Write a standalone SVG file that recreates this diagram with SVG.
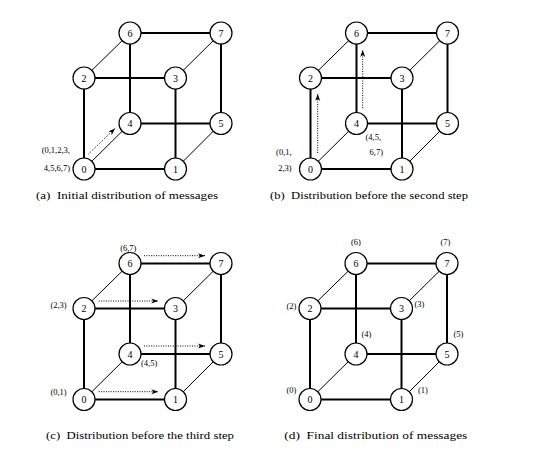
<svg xmlns="http://www.w3.org/2000/svg" width="546" height="463" viewBox="0 0 546 463">
<style>
  text { font-family: "Liberation Serif", "Times New Roman", serif; fill: #000; }
  .thick { stroke: #000; stroke-width: 2; fill: none; }
  .thin { stroke: #000; stroke-width: 1; fill: none; }
  .dot { stroke: #000; stroke-width: 1; stroke-dasharray: 1 1.4; fill: none; marker-end: url(#ah); }
  .node circle { fill: #fff; stroke: #000; stroke-width: 1.2; }
  .node text { font-size: 10px; text-anchor: middle; }
  .lbl { font-size: 8.5px; }
  .cap { font-size: 11px; }
</style>
<defs>
  <marker id="ah" markerUnits="userSpaceOnUse" markerWidth="8" markerHeight="6" refX="7" refY="2.5" orient="auto" overflow="visible">
    <path d="M0,0 L7,2.5 L0,5 L2,2.5 Z" fill="#000"/>
  </marker>
  <g id="edges">
    <line class="thick" x1="84" y1="169" x2="175.5" y2="169"/>
    <line class="thick" x1="84" y1="78" x2="175.5" y2="78"/>
    <line class="thick" x1="84" y1="169" x2="84" y2="78"/>
    <line class="thick" x1="175.5" y1="169" x2="175.5" y2="78"/>
    <line class="thick" x1="130" y1="123.5" x2="221" y2="123.5"/>
    <line class="thick" x1="130" y1="33" x2="221" y2="33"/>
    <line class="thick" x1="130" y1="123.5" x2="130" y2="33"/>
    <line class="thick" x1="221" y1="123.5" x2="221" y2="33"/>
    <line class="thin" x1="84" y1="169" x2="130" y2="123.5"/>
    <line class="thin" x1="175.5" y1="169" x2="221" y2="123.5"/>
    <line class="thin" x1="84" y1="78" x2="130" y2="33"/>
    <line class="thin" x1="175.5" y1="78" x2="221" y2="33"/>
  </g>
</defs>

<!-- Panel (a) -->
<g id="panel-a">
  <g id="connectors-a">
    <use href="#edges"/>
    <line class="dot" x1="88.5" y1="154" x2="115" y2="128.5"/>
  </g>
  <g id="a0" class="node"><circle cx="84" cy="169" r="11"/><text x="84" y="172.5">0</text></g>
  <g id="a1" class="node"><circle cx="175.5" cy="169" r="11"/><text x="175.5" y="172.5">1</text></g>
  <g id="a2" class="node"><circle cx="84" cy="78" r="11"/><text x="84" y="81.5">2</text></g>
  <g id="a3" class="node"><circle cx="175.5" cy="78" r="11"/><text x="175.5" y="81.5">3</text></g>
  <g id="a4" class="node"><circle cx="130" cy="123.5" r="11"/><text x="130" y="127">4</text></g>
  <g id="a5" class="node"><circle cx="221" cy="123.5" r="11"/><text x="221" y="127">5</text></g>
  <g id="a6" class="node"><circle cx="130" cy="33" r="11"/><text x="130" y="36.5">6</text></g>
  <g id="a7" class="node"><circle cx="221" cy="33" r="11"/><text x="221" y="36.5">7</text></g>
  <text class="lbl" x="70" y="153" text-anchor="end">(0,1,2,3,</text>
  <text class="lbl" x="70" y="171.3" text-anchor="end">4,5,6,7)</text>
  <text class="cap" x="36" y="198.5" xml:space="preserve" textLength="182" lengthAdjust="spacingAndGlyphs">(a)  Initial distribution of messages</text>
</g>

<!-- Panel (b) -->
<g id="panel-b" transform="translate(226.5,0)">
  <g id="connectors-b">
    <use href="#edges"/>
    <line class="dot" x1="91.2" y1="153" x2="91.2" y2="94"/>
    <line class="dot" x1="136.2" y1="108" x2="136.2" y2="50"/>
  </g>
  <g id="b0" class="node"><circle cx="84" cy="169" r="11"/><text x="84" y="172.5">0</text></g>
  <g id="b1" class="node"><circle cx="175.5" cy="169" r="11"/><text x="175.5" y="172.5">1</text></g>
  <g id="b2" class="node"><circle cx="84" cy="78" r="11"/><text x="84" y="81.5">2</text></g>
  <g id="b3" class="node"><circle cx="175.5" cy="78" r="11"/><text x="175.5" y="81.5">3</text></g>
  <g id="b4" class="node"><circle cx="130" cy="123.5" r="11"/><text x="130" y="127">4</text></g>
  <g id="b5" class="node"><circle cx="221" cy="123.5" r="11"/><text x="221" y="127">5</text></g>
  <g id="b6" class="node"><circle cx="130" cy="33" r="11"/><text x="130" y="36.5">6</text></g>
  <g id="b7" class="node"><circle cx="221" cy="33" r="11"/><text x="221" y="36.5">7</text></g>
  <text class="lbl" x="65.2" y="154.7" text-anchor="end">(0,1,</text>
  <text class="lbl" x="65.2" y="170.7" text-anchor="end">2,3)</text>
  <text class="lbl" x="139" y="139.7">(4,5,</text>
  <text class="lbl" x="143" y="154.7">6,7)</text>
  <text class="cap" x="43.5" y="198.5" xml:space="preserve" textLength="198" lengthAdjust="spacingAndGlyphs">(b)  Distribution before the second step</text>
</g>

<!-- Panel (c) -->
<g id="panel-c" transform="translate(0,230.5)">
  <g id="connectors-c">
    <use href="#edges"/>
    <line class="dot" x1="144" y1="25.2" x2="205" y2="25.2"/>
    <line class="dot" x1="98.7" y1="70.5" x2="158.3" y2="70.5"/>
    <line class="dot" x1="144" y1="115.5" x2="205" y2="115.5"/>
    <line class="dot" x1="98.7" y1="161.2" x2="158.3" y2="161.2"/>
  </g>
  <g id="c0" class="node"><circle cx="84" cy="169" r="11"/><text x="84" y="172.5">0</text></g>
  <g id="c1" class="node"><circle cx="175.5" cy="169" r="11"/><text x="175.5" y="172.5">1</text></g>
  <g id="c2" class="node"><circle cx="84" cy="78" r="11"/><text x="84" y="81.5">2</text></g>
  <g id="c3" class="node"><circle cx="175.5" cy="78" r="11"/><text x="175.5" y="81.5">3</text></g>
  <g id="c4" class="node"><circle cx="130" cy="123.5" r="11"/><text x="130" y="127">4</text></g>
  <g id="c5" class="node"><circle cx="221" cy="123.5" r="11"/><text x="221" y="127">5</text></g>
  <g id="c6" class="node"><circle cx="130" cy="33" r="11"/><text x="130" y="36.5">6</text></g>
  <g id="c7" class="node"><circle cx="221" cy="33" r="11"/><text x="221" y="36.5">7</text></g>
  <text class="lbl" x="128.3" y="20.3" text-anchor="middle">(6,7)</text>
  <text class="lbl" x="66.7" y="77.5" text-anchor="end">(2,3)</text>
  <text class="lbl" x="141" y="135">(4,5)</text>
  <text class="lbl" x="66.7" y="164.2" text-anchor="end">(0,1)</text>
  <text class="cap" x="46" y="208" xml:space="preserve" textLength="188" lengthAdjust="spacingAndGlyphs">(c)  Distribution before the third step</text>
</g>

<!-- Panel (d) -->
<g id="panel-d" transform="translate(226,230.5)">
  <g id="connectors-d">
    <use href="#edges"/>
  </g>
  <g id="d0" class="node"><circle cx="84" cy="169" r="11"/><text x="84" y="172.5">0</text></g>
  <g id="d1" class="node"><circle cx="175.5" cy="169" r="11"/><text x="175.5" y="172.5">1</text></g>
  <g id="d2" class="node"><circle cx="84" cy="78" r="11"/><text x="84" y="81.5">2</text></g>
  <g id="d3" class="node"><circle cx="175.5" cy="78" r="11"/><text x="175.5" y="81.5">3</text></g>
  <g id="d4" class="node"><circle cx="130" cy="123.5" r="11"/><text x="130" y="127">4</text></g>
  <g id="d5" class="node"><circle cx="221" cy="123.5" r="11"/><text x="221" y="127">5</text></g>
  <g id="d6" class="node"><circle cx="130" cy="33" r="11"/><text x="130" y="36.5">6</text></g>
  <g id="d7" class="node"><circle cx="221" cy="33" r="11"/><text x="221" y="36.5">7</text></g>
  <text class="lbl" x="130" y="14.8" text-anchor="middle">(6)</text>
  <text class="lbl" x="219.5" y="14.8" text-anchor="middle">(7)</text>
  <text class="lbl" x="65.5" y="78.2" text-anchor="middle">(2)</text>
  <text class="lbl" x="193.5" y="76.8" text-anchor="middle">(3)</text>
  <text class="lbl" x="140.5" y="106.5" text-anchor="middle">(4)</text>
  <text class="lbl" x="232.5" y="106.5" text-anchor="middle">(5)</text>
  <text class="lbl" x="65.5" y="162.5" text-anchor="middle">(0)</text>
  <text class="lbl" x="197" y="162.5" text-anchor="middle">(1)</text>
  <text class="cap" x="58.3" y="208" xml:space="preserve" textLength="183" lengthAdjust="spacingAndGlyphs">(d)  Final distribution of messages</text>
</g>
</svg>
